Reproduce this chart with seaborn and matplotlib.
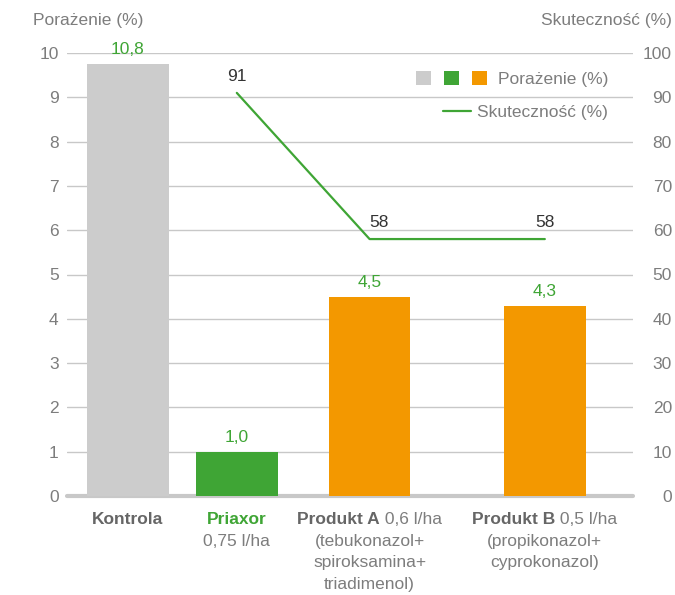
import numpy as np
import pandas as pd
import matplotlib
matplotlib.use("Agg")
import matplotlib.pyplot as plt
import matplotlib.transforms as mtransforms
from matplotlib.patches import Patch
from matplotlib.lines import Line2D
from matplotlib.legend_handler import HandlerTuple
import seaborn as sns


# =========================
# DATA
# =========================
kategorie = ["Kontrola", "Priaxor", "Produkt A", "Produkt B"]
porazenie = [10.8, 1.0, 4.5, 4.3]            # Porażenie (%) - left axis
skutecznosc = [np.nan, 91, 58, 58]          # Skuteczność (%) - right axis

label_rest = ["", "", " 0,6 l/ha", " 0,5 l/ha"]
label_extra = [
    [],
    ["0,75 l/ha"],
    ["(tebukonazol+", "spiroksamina+", "triadimenol)"],
    ["(propikonazol+", "cyprokonazol)"],
]

y_ticks = [0, 1, 2, 3, 4, 5, 6, 7, 8, 9, 10]
y2_ticks = [0, 10, 20, 30, 40, 50, 60, 70, 80, 90, 100]


# =========================
# LAYOUT / STYLE
# =========================
x_pos = [0, 1, 2.22, 3.83]     # uneven spacing as in the original
bar_cap = 9.75                 # Kontrola bar is cut below the top gridline

SZARY = "#cccccc"
ZIELONY = "#3fa535"
POMARANCZ = "#f39800"
kolory = [SZARY, ZIELONY, POMARANCZ, POMARANCZ]
TEKST = "#7d7d7d"
GRID = "#c8c8c8"
FS = 12.5

sns.set_theme(style="white")
plt.rcParams["font.family"] = ["Liberation Sans", "DejaVu Sans"]

fig = plt.figure(figsize=(6.75, 5.95), dpi=100)
ax = fig.add_axes([67 / 675, 99 / 595, 566 / 675, 443 / 595])

df = pd.DataFrame({
    "x": x_pos,
    "h": np.minimum(porazenie, bar_cap),
    "kat": kategorie,
})

# =========================
# BARS
# =========================
sns.barplot(data=df, x="x", y="h", hue="kat", palette=kolory,
            native_scale=True, width=0.75, dodge=False, legend=False,
            saturation=1, linewidth=0, ax=ax, zorder=3)

ax.set_xlim(-0.56, 4.64)
ax.set_ylim(0, 10)
ax.set_yticks(y_ticks)
ax.set_xticks([])
ax.set_xlabel("")
ax.set_ylabel("")
for s in ax.spines.values():
    s.set_visible(False)
for t in y_ticks[1:]:
    ax.axhline(t, color=GRID, lw=1.0, zorder=1)
ax.axhline(0, color=GRID, lw=3, zorder=2, clip_on=False)
ax.tick_params(axis="y", length=0, pad=6, labelsize=FS, labelcolor=TEKST)

for x, v, h in zip(x_pos, porazenie, df["h"]):
    ax.annotate(f"{v:.1f}".replace(".", ","), (x, h), xytext=(0, 5),
                textcoords="offset points", ha="center", va="bottom",
                color=ZIELONY, fontsize=FS, annotation_clip=False)

# =========================
# LINE (right axis)
# =========================
ax2 = ax.twinx()
sns.lineplot(x=x_pos, y=skutecznosc, color=ZIELONY, linewidth=1.6, ax=ax2)
ax2.set_ylim(0, 100)
ax2.set_yticks(y2_ticks)
ax2.set_ylabel("")
for s in ax2.spines.values():
    s.set_visible(False)
ax2.tick_params(axis="y", length=0, pad=28, labelsize=FS, labelcolor=TEKST)
for lab in ax2.get_yticklabels():
    lab.set_horizontalalignment("right")

label_dx = [0, 0, 7, 0]
for x, v, dx in zip(x_pos, skutecznosc, label_dx):
    if np.isnan(v):
        continue
    ax2.annotate(f"{v:.0f}", (x, v), xytext=(dx, 12), textcoords="offset points",
                 ha="center", va="center", color="#333333", fontsize=FS)

# =========================
# AXIS TITLES
# =========================
fig.text(33 / 675, 1 - 20 / 595, "Porażenie (%)", ha="left", va="center",
         color=TEKST, fontsize=FS)
fig.text(672 / 675, 1 - 20 / 595, "Skuteczność (%)", ha="right", va="center",
         color=TEKST, fontsize=FS)

# =========================
# CATEGORY LABELS (bold name + regular rest)
# =========================
trans = mtransforms.blended_transform_factory(ax.transData, ax.transAxes)
renderer = fig.canvas.get_renderer()
y_first = -24 / 443
line_step = 21.5 / 443
for i, x in enumerate(x_pos):
    kol_b = ZIELONY if kategorie[i] == "Priaxor" else "#666666"
    t1 = ax.text(x, y_first, kategorie[i], transform=trans, ha="left",
                 va="center", fontsize=FS, fontweight="bold", color=kol_b)
    t2 = ax.text(x, y_first, label_rest[i], transform=trans, ha="left",
                 va="center", fontsize=FS, color=TEKST)
    w1 = t1.get_window_extent(renderer).width
    w2 = t2.get_window_extent(renderer).width if label_rest[i] else 0
    tot = w1 + w2
    t1.set_transform(trans + mtransforms.ScaledTranslation(-tot / 2 / fig.dpi, 0, fig.dpi_scale_trans))
    t2.set_transform(trans + mtransforms.ScaledTranslation((w1 - tot / 2) / fig.dpi, 0, fig.dpi_scale_trans))
    for j, line in enumerate(label_extra[i]):
        ax.text(x, y_first - (j + 1) * line_step, line, transform=trans,
                ha="center", va="center", fontsize=FS, color=TEKST)

# =========================
# LEGEND
# =========================
kwadraty = tuple(Patch(facecolor=c, edgecolor="none") for c in [SZARY, ZIELONY, POMARANCZ])
fig.legend([kwadraty], ["Porażenie (%)"],
           handler_map={tuple: HandlerTuple(ndivide=None, pad=0.75)},
           loc="center right", bbox_to_anchor=(608 / 675, 1 - 79 / 595),
           frameon=False, handlelength=4.09, handleheight=0.864,
           handletextpad=0.63, borderpad=0, borderaxespad=0,
           fontsize=FS, labelcolor=TEKST)
fig.legend([Line2D([], [], color=ZIELONY, lw=1.6)], ["Skuteczność (%)"],
           loc="center right", bbox_to_anchor=(608 / 675, 1 - 112 / 595),
           frameon=False, handlelength=1.61, handletextpad=0.35,
           borderpad=0, borderaxespad=0, fontsize=FS, labelcolor=TEKST)

fig.savefig("out.png", dpi=100)
